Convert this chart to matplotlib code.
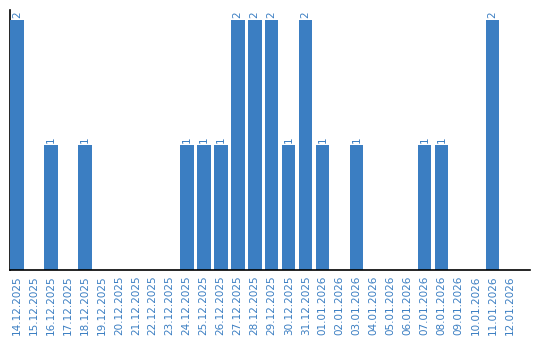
import matplotlib.pyplot as plt

dates = ['14.12.2025', '15.12.2025', '16.12.2025', '17.12.2025', '18.12.2025',
         '19.12.2025', '20.12.2025', '21.12.2025', '22.12.2025', '23.12.2025',
         '24.12.2025', '25.12.2025', '26.12.2025', '27.12.2025', '28.12.2025',
         '29.12.2025', '30.12.2025', '31.12.2025', '01.01.2026', '02.01.2026',
         '03.01.2026', '04.01.2026', '05.01.2026', '06.01.2026', '07.01.2026',
         '08.01.2026', '09.01.2026', '10.01.2026', '11.01.2026', '12.01.2026']
counts = [2, 0, 1, 0, 1, 0, 0, 0, 0, 0,
          1, 1, 1, 2, 2, 2, 1, 2, 1, 0,
          1, 0, 0, 0, 1, 1, 0, 0, 2, 0]

blue = '#3b7ec2'

fig = plt.figure(figsize=(5.4, 3.4), dpi=100)
ax = fig.add_axes([10 / 540, 70 / 340, 520 / 540, 260 / 340])

x = list(range(len(dates)))
ax.bar(x, counts, width=0.8, color=blue, zorder=3)

for xi, c in zip(x, counts):
    if c > 0:
        ax.text(xi, c + 0.02, str(c), rotation=90, ha='center', va='bottom',
                color=blue, fontsize=7.5)

ax.set_xlim(-0.4, 30.2)
ax.set_ylim(0, 2.08)
ax.set_xticks(x)
ax.set_xticklabels(dates, rotation=90, color=blue, fontsize=7.5)
ax.tick_params(axis='x', length=0, pad=4)
ax.set_yticks([])
ax.spines['top'].set_visible(False)
ax.spines['right'].set_visible(False)
ax.spines['left'].set_linewidth(1.2)
ax.spines['bottom'].set_linewidth(1.2)
ax.spines['bottom'].set_zorder(4)

plt.savefig('out.png')
